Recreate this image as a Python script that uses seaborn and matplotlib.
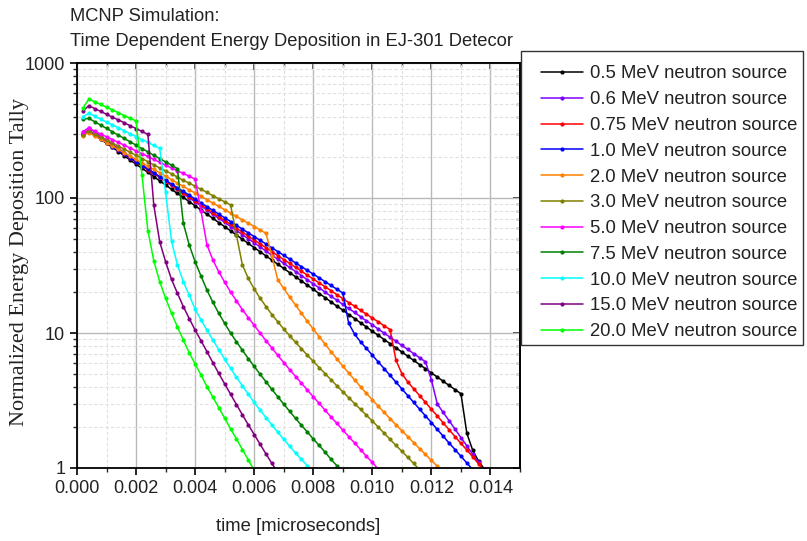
import matplotlib
matplotlib.use("Agg")
import matplotlib.pyplot as plt
import seaborn as sns
import pandas as pd
from matplotlib.ticker import MultipleLocator, LogLocator, FixedLocator, NullFormatter, FormatStrFormatter
from matplotlib.lines import Line2D
from matplotlib.patches import Rectangle

# sample times (same grid for every series; each series uses its first N samples)
time_us = [0.0002, 0.0004, 0.0006, 0.0008, 0.0010, 0.0012, 0.0014, 0.0016, 0.0018, 0.0020,
           0.0022, 0.0024, 0.0026, 0.0028, 0.0030, 0.0032, 0.0034, 0.0036, 0.0038, 0.0040,
           0.0042, 0.0044, 0.0046, 0.0048, 0.0050, 0.0052, 0.0054, 0.0056, 0.0058, 0.0060,
           0.0062, 0.0064, 0.0066, 0.0068, 0.0070, 0.0072, 0.0074, 0.0076, 0.0078, 0.0080,
           0.0082, 0.0084, 0.0086, 0.0088, 0.0090, 0.0092, 0.0094, 0.0096, 0.0098, 0.0100,
           0.0102, 0.0104, 0.0106, 0.0108, 0.0110, 0.0112, 0.0114, 0.0116, 0.0118, 0.0120,
           0.0122, 0.0124, 0.0126, 0.0128, 0.0130, 0.0132, 0.0134, 0.0136, 0.0138, 0.0140]

labels = ["0.5 MeV neutron source", "0.6 MeV neutron source", "0.75 MeV neutron source",
          "1.0 MeV neutron source", "2.0 MeV neutron source", "3.0 MeV neutron source",
          "5.0 MeV neutron source", "7.5 MeV neutron source", "10.0 MeV neutron source",
          "15.0 MeV neutron source", "20.0 MeV neutron source"]

colors = ["#000000", "#8000FF", "#FF0000", "#0000FF", "#FF8000", "#808000",
          "#FF00FF", "#008000", "#00FFFF", "#800080", "#00FF00"]

e_0p5 = [295, 315, 293, 273, 254, 237, 221, 206, 191, 178, 166, 155, 144, 134, 125, 116, 108, 101,
         93.9, 87.5, 81.5, 75.9, 70.7, 65.8, 61.3, 57.1, 53.2, 49.5, 46.1, 42.9, 40.0, 37.2, 34.7,
         32.3, 30.1, 28.0, 26.1, 24.3, 22.6, 21.1, 19.6, 18.3, 17.0, 15.8, 14.8, 13.7, 12.8, 11.9,
         11.1, 10.3, 9.61, 8.95, 8.34, 7.76, 7.23, 6.73, 6.27, 5.84, 5.44, 5.06, 4.72, 4.39, 4.09,
         3.81, 3.55, 1.81, 1.35, 1.12, 0.98]
e_0p6 = [310, 330, 308, 287, 268, 249, 233, 217, 202, 189, 176, 164, 153, 143, 133, 124, 116, 108,
         100, 93.6, 87.3, 81.4, 75.9, 70.8, 66.0, 61.5, 57.4, 53.5, 49.9, 46.5, 43.4, 40.4, 37.7,
         35.2, 32.8, 30.6, 28.5, 26.6, 24.8, 23.1, 21.6, 20.1, 18.7, 17.5, 16.3, 15.2, 14.2, 13.2,
         12.3, 11.5, 10.7, 9.98, 9.31, 8.68, 8.09, 7.55, 7.04, 6.56, 6.12, 4.49, 2.98, 2.58, 2.24,
         1.94, 1.68, 1.46, 1.26, 1.10, 0.95]
e_0p75 = [300, 315, 295, 276, 258, 241, 226, 211, 198, 185, 173, 162, 152, 142, 133, 124, 116, 109,
          102, 95.0, 88.9, 83.2, 77.8, 72.8, 68.1, 63.7, 59.6, 55.8, 52.2, 48.8, 45.7, 42.8, 40.0,
          37.4, 35.0, 32.8, 30.7, 28.7, 26.8, 25.1, 23.5, 22.0, 20.6, 19.2, 18.0, 16.8, 15.8, 14.7,
          13.8, 12.9, 12.1, 11.3, 10.6, 6.3, 5.0, 4.34, 3.86, 3.44, 3.06, 2.72, 2.43, 2.16, 1.92,
          1.71, 1.52, 1.36, 1.21, 1.07, 0.96]
e_1p0 = [300, 310, 291, 273, 256, 240, 225, 211, 198, 186, 174, 164, 154, 144, 135, 127, 119, 112,
         105, 98.1, 92.0, 86.3, 81.0, 76.0, 71.3, 66.9, 62.7, 58.8, 55.2, 51.8, 48.6, 45.6, 42.7,
         40.1, 37.6, 35.3, 33.1, 31.0, 29.1, 27.3, 25.6, 24.0, 22.5, 21.1, 19.8, 11.8, 9.8, 8.6,
         7.69, 6.85, 6.11, 5.45, 4.85, 4.33, 3.85, 3.44, 3.06, 2.73, 2.43, 2.17, 1.93, 1.72, 1.53,
         1.37, 1.22, 1.09, 0.97]
e_2p0 = [290, 305, 288, 272, 257, 243, 229, 216, 204, 193, 182, 172, 163, 154, 145, 137, 129, 122,
         115, 109, 103, 97.1, 91.7, 86.6, 81.8, 77.3, 73.0, 68.9, 65.1, 61.5, 58.0, 54.8, 37.0, 24.7,
         21.4, 18.5, 16.1, 14.0, 12.2, 10.7, 9.40, 8.26, 7.28, 6.43, 5.69, 5.05, 4.49, 4.00, 3.57,
         3.20, 2.87, 2.58, 2.32, 2.09, 1.89, 1.71, 1.54, 1.39, 1.26, 1.14, 1.03, 0.93]
e_3p0 = [295, 315, 299, 284, 269, 255, 242, 230, 218, 207, 196, 186, 176, 167, 159, 151, 143, 135,
         129, 122, 116, 110, 104, 98.7, 93.6, 88.8, 53.0, 31.9, 25.4, 21.2, 18.1, 15.7, 13.7, 12.1,
         10.7, 9.55, 8.53, 7.64, 6.85, 6.17, 5.55, 5.00, 4.51, 4.06, 3.67, 3.32, 3.00, 2.72, 2.46,
         2.23, 2.01, 1.81, 1.63, 1.47, 1.33, 1.20, 1.08, 0.97]
e_5p0 = [310, 328, 313, 298, 284, 271, 258, 246, 234, 223, 213, 203, 193, 184, 175, 167, 159, 152,
         145, 138, 80.0, 44.9, 34.8, 28.4, 23.8, 20.1, 17.3, 14.9, 13.0, 11.4, 9.98, 8.77, 7.73,
         6.82, 6.04, 5.36, 4.76, 4.25, 3.78, 3.37, 3.01, 2.68, 2.39, 2.14, 1.91, 1.71, 1.53, 1.37,
         1.22, 1.10, 0.98]
e_7p5 = [383, 389, 367, 347, 328, 309, 292, 276, 261, 246, 232, 220, 207, 196, 185, 175, 165, 65.0,
         44.9, 33.7, 26.4, 20.8, 16.9, 14.0, 11.8, 10.0, 8.61, 7.45, 6.47, 5.66, 4.95, 4.35, 3.82,
         3.37, 2.97, 2.63, 2.33, 2.07, 1.85, 1.64, 1.47, 1.31, 1.16, 1.04, 0.925]
e_10 = [400, 424, 403, 384, 365, 348, 331, 315, 299, 285, 271, 258, 245, 233, 110, 48.0, 32.0, 24.0,
        19.0, 15.0, 12.5, 10.5, 8.87, 7.52, 6.40, 5.47, 4.70, 4.06, 3.52, 3.06, 2.68, 2.36, 2.08,
        1.84, 1.63, 1.45, 1.29, 1.16, 1.04, 0.93]
e_15 = [441, 483, 460, 438, 417, 397, 379, 361, 343, 327, 311, 296, 88.7, 47.5, 33.7, 25.0, 19.7,
        15.7, 12.8, 10.5, 8.77, 7.27, 6.04, 5.02, 4.20, 3.52, 2.95, 2.48, 2.09, 1.77, 1.50, 1.27,
        1.08, 0.925]
e_20 = [462, 541, 516, 493, 470, 449, 428, 408, 390, 372, 148, 57.3, 34.3, 24.0, 18.1, 14.0, 11.1,
        8.87, 7.14, 5.89, 4.89, 4.00, 3.35, 2.80, 2.34, 1.95, 1.64, 1.37, 1.15, 0.96]

series = [e_0p5, e_0p6, e_0p75, e_1p0, e_2p0, e_3p0, e_5p0, e_7p5, e_10, e_15, e_20]

rows = []
for lab, vals in zip(labels, series):
    for t, v in zip(time_us, vals):
        rows.append((lab, t, v))
df = pd.DataFrame(rows, columns=["source", "time", "tally"])

sns.set_theme(style="white")
plt.rcParams['font.family'] = ['Liberation Sans', 'DejaVu Sans']

W, H = 807, 541
fig = plt.figure(figsize=(W / 100, H / 100), dpi=100)
fig.patch.set_facecolor("white")
L, R, T, B = 77, 520, 63, 468
ax = fig.add_axes([L / W, 1 - B / H, (R - L) / W, (B - T) / H])
ax.set_facecolor("white")

sns.lineplot(data=df, x="time", y="tally", hue="source", hue_order=labels, palette=colors,
             marker="o", markersize=3, markeredgewidth=0, linewidth=1.1,
             estimator=None, sort=False, ax=ax, legend=False)

ax.set_yscale("log")
ax.set_xlim(0, 0.015)
ax.set_ylim(1, 1000)

ax.xaxis.set_major_locator(FixedLocator([0.0, 0.002, 0.004, 0.006, 0.008, 0.010, 0.012, 0.014]))
ax.xaxis.set_minor_locator(MultipleLocator(0.001))
ax.xaxis.set_major_formatter(FormatStrFormatter("%.3f"))
ax.yaxis.set_major_locator(FixedLocator([1, 10, 100, 1000]))
ax.set_yticklabels(["1", "10", "100", "1000"])
ax.yaxis.set_minor_locator(LogLocator(base=10, subs=[2, 3, 4, 5, 6, 7, 8, 9]))
ax.yaxis.set_minor_formatter(NullFormatter())

ax.grid(which="major", color="#b9b9b9", linewidth=1.0)
ax.grid(which="minor", color="#e0e0e0", linewidth=0.8, linestyle=(0, (3, 2)))
ax.set_axisbelow(True)

for s in ax.spines.values():
    s.set_color("black")
    s.set_linewidth(1.3)

ax.tick_params(axis="both", which="major", direction="out", length=5, width=1.2,
               labelsize=13, colors="black", bottom=True, left=True, top=False, right=False)
ax.tick_params(axis="both", which="minor", direction="out", length=3, width=1.0,
               bottom=True, left=True, top=False, right=False)
for lab in ax.get_xticklabels() + ax.get_yticklabels():
    lab.set_color("#222222")

# mirrored inward ticks on top and right
sx = ax.secondary_xaxis("top")
sx.xaxis.set_major_locator(FixedLocator([0.0, 0.002, 0.004, 0.006, 0.008, 0.010, 0.012, 0.014]))
sx.xaxis.set_minor_locator(MultipleLocator(0.001))
sx.tick_params(which="major", direction="in", length=5, width=1.2, labeltop=False)
sx.tick_params(which="minor", direction="in", length=3, width=1.0)
sx.spines["top"].set_linewidth(1.3)
sy = ax.secondary_yaxis("right")
sy.yaxis.set_major_locator(FixedLocator([1, 10, 100, 1000]))
sy.yaxis.set_minor_locator(LogLocator(base=10, subs=[2, 3, 4, 5, 6, 7, 8, 9]))
sy.tick_params(which="major", direction="in", length=5, width=1.2, labelright=False)
sy.tick_params(which="minor", direction="in", length=3, width=1.0, labelright=False)
sy.yaxis.set_minor_formatter(NullFormatter())
sy.spines["right"].set_linewidth(1.3)

ax.set_xlabel("time [microseconds]", fontsize=13.3, color="#222222")
ax.xaxis.label.set_va("center")
ax.xaxis.set_label_coords(0.5, (B - 526.5) / (B - T))
ax.set_ylabel("Normalized Energy Deposition Tally", fontsize=16,
              family=["Liberation Serif", "DejaVu Serif"], color="#222222")
ax.yaxis.label.set_va("center")
ax.yaxis.set_label_coords((20 - L) / (R - L), (B - 262) / (B - T))

fig.text(70 / W, 1 - 21 / H, "MCNP Simulation:", fontsize=13.2, va="baseline", ha="left",
         color="#222222")
fig.text(70 / W, 1 - 46 / H, "Time Dependent Energy Deposition in EJ-301 Detecor", fontsize=13.2,
         va="baseline", ha="left", color="#222222")

# legend with its own frame
fig.patches.append(Rectangle((521 / W, 1 - 345 / H), (803 - 521) / W, (345 - 51) / H,
                             transform=fig.transFigure, facecolor="white", edgecolor="#333333",
                             linewidth=1.0, zorder=5))
handles = [Line2D([0], [0], color=c, lw=1.1, marker="o", markersize=3, markeredgewidth=0)
           for c in colors]
leg = fig.legend(handles, labels, loc="upper left", bbox_to_anchor=(541 / W, 1 - 65.5 / H),
                 bbox_transform=fig.transFigure, frameon=False, fontsize=13.3,
                 handlelength=2.3, handletextpad=0.35, labelspacing=0.475, borderpad=0,
                 borderaxespad=0)
leg.set_zorder(6)
for txt in leg.get_texts():
    txt.set_color("#222222")

fig.savefig("out.png", dpi=100, facecolor="white")
